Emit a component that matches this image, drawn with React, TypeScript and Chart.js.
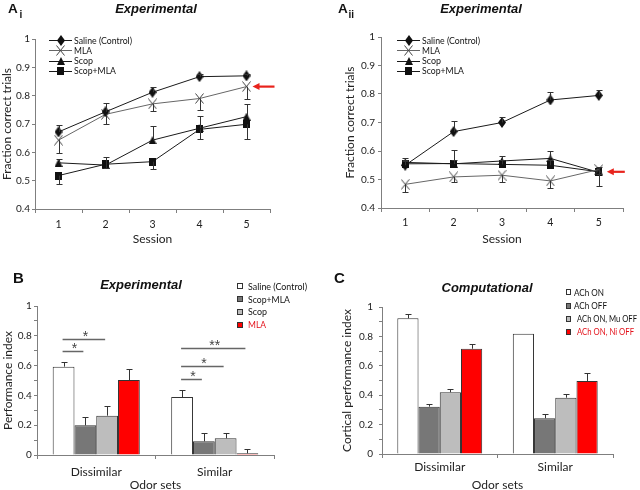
import React, { useEffect, useRef } from 'react';
import { Chart, registerables } from 'chart.js';

Chart.register(...registerables);

// ---------------- data ----------------
const sessionLabels = ['1', '2', '3', '4', '5'];
const lineSeriesLabels = ['Saline (Control)', 'MLA', 'Scop', 'Scop+MLA'];

// Panel Ai (means and error-bar tips)
const aiSaline = [0.672, 0.743, 0.812, 0.867, 0.870];
const aiSalineErr = [0.696, 0.773, 0.832, 0.877, 0.878];
const aiMLA = [0.643, 0.734, 0.771, 0.790, 0.832];
const aiMLAErr = [0.596, 0.699, 0.747, 0.750, 0.790];
const aiScop = [0.563, 0.555, 0.643, 0.685, 0.726];
const aiScopErr = [0.578, 0.585, 0.694, 0.728, 0.770];
const aiScopMLA = [0.518, 0.558, 0.567, 0.681, 0.699];
const aiScopMLAErr = [0.488, 0.545, 0.540, 0.647, 0.647];

// Panel Aii
const aiiSaline = [0.550, 0.668, 0.700, 0.779, 0.795];
const aiiSalineErr = [0.565, 0.706, 0.718, 0.808, 0.815];
const aiiMLA = [0.483, 0.509, 0.515, 0.495, 0.535];
const aiiMLAErr = [0.455, 0.490, 0.490, 0.470, 0.520];
const aiiScop = [0.560, 0.555, 0.565, 0.574, 0.525];
const aiiScopErr = [0.575, 0.570, 0.582, 0.600, 0.545];
const aiiScopMLA = [0.555, 0.556, 0.553, 0.550, 0.527];
const aiiScopMLAErr = [0.570, 0.603, 0.568, 0.568, 0.476];

// Panel B
const odorSets = ['Dissimilar', 'Similar'];
const bSeriesLabels = ['Saline (Control)', 'Scop+MLA', 'Scop', 'MLA'];
const bSaline = [0.593, 0.389];
const bSalineErr = [0.624, 0.438];
const bScopMLA = [0.199, 0.092];
const bScopMLAErr = [0.253, 0.146];
const bScop = [0.264, 0.112];
const bScopErr = [0.331, 0.148];
const bMLA = [0.503, 0.011];
const bMLAErr = [0.579, 0.038];

// significance brackets in B
const bSigGroup = [0, 0, 1, 1, 1];
const bSigFrom = [0, 0, 0, 0, 0];
const bSigTo = [2, 1, 3, 2, 1];
const bSigLevel = [0.78, 0.70, 0.72, 0.60, 0.51];
const bSigLabel = ['*', '*', '**', '*', '*'];

// Panel C
const cSeriesLabels = ['ACh ON', 'ACh OFF', 'ACh ON, Mu OFF', 'ACh ON, Ni OFF'];
const cAChOn = [0.923, 0.818];
const cAChOnErr = [0.950, null];
const cAChOff = [0.322, 0.243];
const cAChOffErr = [0.342, 0.272];
const cMuOff = [0.420, 0.383];
const cMuOffErr = [0.440, 0.410];
const cNiOff = [0.716, 0.497];
const cNiOffErr = [0.748, 0.550];

// ---------------- styles ----------------
const AXIS = '#7f7f7f';
const TXT = '#222';
const FONT = 'Lato';
const RED = '#ff0000';
const RED_TXT = '#e3121b';
const BAR_COLORS = ['#ffffff', '#777777', '#bdbdbd', RED];

function makeImg(w: number, h: number, draw: (c: CanvasRenderingContext2D) => void) {
  const cv = document.createElement('canvas');
  cv.width = w;
  cv.height = h;
  const c = cv.getContext('2d')!;
  draw(c);
  return cv;
}

function pointImages() {
  const diamond = makeImg(8, 11, (c) => {
    c.fillStyle = '#111';
    c.beginPath();
    c.moveTo(4, 0); c.lineTo(8, 5.5); c.lineTo(4, 11); c.lineTo(0, 5.5);
    c.closePath(); c.fill();
  });
  const cross = makeImg(9, 11, (c) => {
    c.strokeStyle = '#444';
    c.lineWidth = 1;
    c.beginPath();
    c.moveTo(0.5, 0.5); c.lineTo(8.5, 10.5);
    c.moveTo(8.5, 0.5); c.lineTo(0.5, 10.5);
    c.stroke();
  });
  const tri = makeImg(8, 8, (c) => {
    c.fillStyle = '#111';
    c.beginPath();
    c.moveTo(4, 0); c.lineTo(8, 8); c.lineTo(0, 8);
    c.closePath(); c.fill();
  });
  const sq = makeImg(7, 8, (c) => {
    c.fillStyle = '#111';
    c.fillRect(0, 0, 7, 8);
  });
  return [diamond, cross, tri, sq];
}

// ---------------- plugins ----------------
const errorBarPlugin = (tips: (number | null)[][], cap: number) => ({
  id: 'errbars',
  afterDatasetsDraw(chart: any) {
    const { ctx } = chart;
    const ys = chart.scales.y;
    ctx.save();
    ctx.strokeStyle = '#333';
    ctx.lineWidth = 1;
    tips.forEach((arr, di) => {
      const meta = chart.getDatasetMeta(di);
      arr.forEach((t, i) => {
        if (t == null) return;
        const el = meta.data[i];
        const x = Math.round(el.x) + 0.5;
        const y1 = Math.round(ys.getPixelForValue(t)) + 0.5;
        ctx.beginPath();
        ctx.moveTo(x, el.y);
        ctx.lineTo(x, y1);
        ctx.moveTo(x - cap / 2, y1);
        ctx.lineTo(x + cap / 2, y1);
        ctx.stroke();
      });
    });
    ctx.restore();
  },
});

type TextItem = { text: string; x: number; y: number; font: string; color?: string; align?: CanvasTextAlign };
const textPlugin = (items: TextItem[]) => ({
  id: 'texts',
  afterDraw(chart: any) {
    const ctx = chart.ctx;
    ctx.save();
    ctx.textBaseline = 'alphabetic';
    for (const it of items) {
      ctx.font = it.font;
      ctx.fillStyle = it.color || '#111';
      ctx.textAlign = it.align || 'left';
      ctx.fillText(it.text, it.x, it.y);
    }
    ctx.restore();
  },
});

function fitText(ctx: CanvasRenderingContext2D, text: string, x: number, y: number, maxW: number) {
  const w = ctx.measureText(text).width;
  ctx.fillText(text, x, y, Math.min(w, maxW));
}

const lineLegendPlugin = (cfg: { x: number; y: number; dy: number; len: number; font: string; maxW: number[] }) => ({
  id: 'lineLegend',
  afterDraw(chart: any) {
    const ctx = chart.ctx;
    ctx.save();
    chart.data.datasets.forEach((ds: any, i: number) => {
      const yy = cfg.y + i * cfg.dy;
      ctx.strokeStyle = ds.borderColor;
      ctx.lineWidth = 1;
      ctx.beginPath();
      ctx.moveTo(cfg.x, Math.round(yy) + 0.5);
      ctx.lineTo(cfg.x + cfg.len, Math.round(yy) + 0.5);
      ctx.stroke();
      const img = ds.pointStyle;
      ctx.drawImage(img, Math.round(cfg.x + cfg.len / 2 - img.width / 2), Math.round(yy - img.height / 2));
      ctx.fillStyle = '#111';
      ctx.font = cfg.font;
      ctx.textBaseline = 'middle';
      ctx.textAlign = 'left';
      fitText(ctx, ds.label, cfg.x + cfg.len + 2, yy + 0.5, cfg.maxW[i]);
    });
    ctx.restore();
  },
});

const barLegendPlugin = (cfg: {
  x: number; y: number[]; w: number; h: number; textX: number[]; font: string; textColors: string[]; maxW: number[];
}) => ({
  id: 'barLegend',
  afterDraw(chart: any) {
    const ctx = chart.ctx;
    ctx.save();
    chart.data.datasets.forEach((ds: any, i: number) => {
      const yy = cfg.y[i];
      ctx.fillStyle = ds.backgroundColor;
      ctx.fillRect(cfg.x, Math.round(yy - cfg.h / 2), cfg.w, cfg.h);
      ctx.strokeStyle = '#333';
      ctx.lineWidth = 1;
      ctx.strokeRect(cfg.x + 0.5, Math.round(yy - cfg.h / 2) + 0.5, cfg.w - 1, cfg.h - 1);
      ctx.fillStyle = cfg.textColors[i];
      ctx.font = cfg.font;
      ctx.textBaseline = 'middle';
      ctx.textAlign = 'left';
      fitText(ctx, ds.label, cfg.textX[i], yy + 0.5, cfg.maxW[i]);
    });
    ctx.restore();
  },
});

const arrowPlugin = (dsIndex: number, ptIndex: number, gap: number, len: number) => ({
  id: 'arrow',
  afterDraw(chart: any) {
    const ctx = chart.ctx;
    const el = chart.getDatasetMeta(dsIndex).data[ptIndex];
    const x0 = el.x + gap;
    const y = el.y;
    ctx.save();
    ctx.strokeStyle = '#e8231c';
    ctx.fillStyle = '#e8231c';
    ctx.lineWidth = 2.2;
    ctx.beginPath();
    ctx.moveTo(x0 + 5, y);
    ctx.lineTo(x0 + len, y);
    ctx.stroke();
    ctx.beginPath();
    ctx.moveTo(x0, y);
    ctx.lineTo(x0 + 7, y - 3.5);
    ctx.lineTo(x0 + 7, y + 3.5);
    ctx.closePath();
    ctx.fill();
    ctx.restore();
  },
});

const sigPlugin = {
  id: 'sig',
  afterDatasetsDraw(chart: any) {
    const ctx = chart.ctx;
    const ys = chart.scales.y;
    ctx.save();
    for (let k = 0; k < bSigLevel.length; k++) {
      const a = chart.getDatasetMeta(bSigFrom[k]).data[bSigGroup[k]];
      const b = chart.getDatasetMeta(bSigTo[k]).data[bSigGroup[k]];
      const y = Math.round(ys.getPixelForValue(bSigLevel[k])) + 0.5;
      ctx.strokeStyle = '#666';
      ctx.lineWidth = 1.5;
      ctx.beginPath();
      ctx.moveTo(a.x - 1, y);
      ctx.lineTo(b.x - 2, y);
      ctx.stroke();
      ctx.fillStyle = '#444';
      ctx.font = '14px "Liberation Sans"';
      ctx.textAlign = 'center';
      ctx.textBaseline = 'alphabetic';
      ctx.fillText(bSigLabel[k], (a.x + b.x) / 2, y + 1);
    }
    ctx.restore();
  },
};

// ---------------- option builders ----------------
type Geo = {
  padL: number; padT: number; padR: number; padB: number;
  yW: number; xH: number; xTickPad: number; yTickPad: number; xTitlePadB: number;
  xFont: number; yTitle: string; xTitle: string;
};

function baseOptions(g: Geo, yMin: number, yCallback: (v: number) => string) {
  return {
    responsive: false,
    animation: false,
    devicePixelRatio: 1,
    events: [],
    layout: { padding: { left: g.padL, top: g.padT, right: g.padR, bottom: g.padB } },
    plugins: { legend: { display: false }, tooltip: { enabled: false }, title: { display: false } },
    scales: {
      x: {
        type: 'category',
        offset: true,
        grid: { offset: true, drawOnChartArea: false, drawTicks: true, tickLength: 4, color: AXIS },
        border: { display: true, color: AXIS },
        ticks: { font: { family: FONT, size: g.xFont }, color: TXT, padding: g.xTickPad, maxRotation: 0, autoSkip: false },
        title: { display: true, text: g.xTitle, font: { family: FONT, size: 12 }, color: TXT, padding: { top: 0, bottom: g.xTitlePadB } },
        afterFit: (s: any) => { s.height = g.xH; },
      },
      y: {
        min: yMin,
        max: 1,
        grid: { drawOnChartArea: false, drawTicks: true, tickLength: 3, color: AXIS },
        border: { display: true, color: AXIS },
        ticks: {
          stepSize: 0.1, autoSkip: false, font: { family: FONT, size: 10 }, color: TXT, padding: g.yTickPad,
          callback: (v: any) => yCallback(Number(v)),
        },
        title: { display: true, text: g.yTitle, font: { family: FONT, size: 12 }, color: TXT, padding: { top: 0, bottom: 0 } },
        afterFit: (s: any) => { s.width = g.yW; },
      },
    },
  };
}

const lineTick = (v: number) => String(Math.round(v * 10) / 10);
const barTick = (v: number) => {
  const k = Math.round(v * 10);
  return k % 2 === 0 ? String(k / 10) : '';
};

function lineDatasets(series: number[][], imgs: HTMLCanvasElement[]) {
  const colors = ['#1a1a1a', '#666666', '#1a1a1a', '#1a1a1a'];
  return series.map((d, i) => ({
    label: lineSeriesLabels[i],
    data: d,
    borderColor: colors[i],
    backgroundColor: colors[i],
    borderWidth: 1,
    pointStyle: imgs[i],
    pointRadius: 5,
    tension: 0,
    fill: false,
  }));
}

function barDatasets(labels: string[], series: number[][]) {
  return series.map((d, i) => ({
    label: labels[i],
    data: d,
    backgroundColor: BAR_COLORS[i],
    borderColor: '#333',
    borderWidth: 1,
    barPercentage: 1,
    categoryPercentage: 0.735,
  }));
}

const TITLE_FONT = 'italic bold 13px "Liberation Sans"';
const LEGEND_FONT = `9.5px ${FONT}`;

export default function App() {
  const r1 = useRef<HTMLCanvasElement>(null);
  const r2 = useRef<HTMLCanvasElement>(null);
  const r3 = useRef<HTMLCanvasElement>(null);
  const r4 = useRef<HTMLCanvasElement>(null);

  useEffect(() => {
    const imgs = pointImages();
    const charts: Chart[] = [];
    const lineMaxW = [58, 18, 19, 42];

    // Panel Ai
    charts.push(new Chart(r1.current!, {
      type: 'line',
      data: { labels: sessionLabels, datasets: lineDatasets([aiSaline, aiMLA, aiScop, aiScopMLA], imgs) as any },
      options: baseOptions({
        padL: 0, padT: 39, padR: 370, padB: 241, yW: 35, xH: 40, xTickPad: 5, yTickPad: 2, xTitlePadB: 3,
        xFont: 10.5, yTitle: 'Fraction correct trials', xTitle: 'Session',
      }, 0.4, lineTick) as any,
      plugins: [
        errorBarPlugin([aiSaline.map((_, i) => aiSalineErr[i]), aiMLAErr, aiScopErr, aiScopMLAErr], 6),
        lineLegendPlugin({ x: 49, y: 40, dy: 10.3, len: 23, font: LEGEND_FONT, maxW: lineMaxW }),
        arrowPlugin(1, 4, 6, 22),
        textPlugin([
          { text: 'A', x: 8, y: 12.5, font: 'bold 13.5px "Liberation Sans"' },
          { text: 'i', x: 19.5, y: 18, font: 'bold 10px "Liberation Sans"' },
          { text: 'Experimental', x: 156, y: 12.6, font: TITLE_FONT, align: 'center' },
        ]),
      ],
    }));

    // Panel Aii
    charts.push(new Chart(r2.current!, {
      type: 'line',
      data: { labels: sessionLabels, datasets: lineDatasets([aiiSaline, aiiMLA, aiiScop, aiiScopMLA], imgs) as any },
      options: baseOptions({
        padL: 343, padT: 37, padR: 17, padB: 242, yW: 38, xH: 40, xTickPad: 4, yTickPad: 3, xTitlePadB: 2,
        xFont: 10.5, yTitle: 'Fraction correct trials', xTitle: 'Session',
      }, 0.4, lineTick) as any,
      plugins: [
        errorBarPlugin([aiiSaline.map((_, i) => aiiSalineErr[i]), aiiMLAErr, aiiScopErr, aiiScopMLAErr], 6),
        lineLegendPlugin({ x: 397, y: 40, dy: 10.3, len: 23, font: LEGEND_FONT, maxW: lineMaxW }),
        arrowPlugin(3, 4, 8, 18),
        textPlugin([
          { text: 'A', x: 338, y: 13, font: 'bold 13.5px "Liberation Sans"' },
          { text: 'ii', x: 348.5, y: 18.3, font: 'bold 10px "Liberation Sans"' },
          { text: 'Experimental', x: 481, y: 13.3, font: TITLE_FONT, align: 'center' },
        ]),
      ],
    }));

    // Panel B
    charts.push(new Chart(r3.current!, {
      type: 'bar',
      data: { labels: odorSets, datasets: barDatasets(bSeriesLabels, [bSaline, bScopMLA, bScop, bMLA]) as any },
      options: baseOptions({
        padL: 1, padT: 306, padR: 366, padB: 0, yW: 36, xH: 35, xTickPad: 5.5, yTickPad: 2.3, xTitlePadB: -2.2,
        xFont: 12, yTitle: 'Performance index', xTitle: 'Odor sets',
      }, 0, barTick) as any,
      plugins: [
        errorBarPlugin([bSalineErr, bScopMLAErr, bScopErr, bMLAErr], 6),
        sigPlugin,
        barLegendPlugin({
          x: 237, y: [286, 299, 311.5, 324.5], w: 6, h: 6, textX: [248, 248, 248, 248],
          font: LEGEND_FONT, textColors: ['#111', '#111', '#111', RED_TXT], maxW: [59, 42, 19, 18],
        }),
        textPlugin([
          { text: 'B', x: 13, y: 283, font: 'bold 15px "Liberation Sans"' },
          { text: 'Experimental', x: 141, y: 289, font: TITLE_FONT, align: 'center' },
        ]),
      ],
    }));

    // Panel C
    charts.push(new Chart(r4.current!, {
      type: 'bar',
      data: { labels: odorSets, datasets: barDatasets(cSeriesLabels, [cAChOn, cAChOff, cMuOff, cNiOff]) as any },
      options: baseOptions({
        padL: 340, padT: 307, padR: 27, padB: 0, yW: 42, xH: 36, xTickPad: 2.3, yTickPad: 6, xTitlePadB: -2.2,
        xFont: 12, yTitle: 'Cortical performance index', xTitle: 'Odor sets',
      }, 0, barTick) as any,
      plugins: [
        errorBarPlugin([cAChOnErr, cAChOffErr, cMuOffErr, cNiOffErr], 6),
        barLegendPlugin({
          x: 566, y: [292.3, 305.7, 318.7, 331.7], w: 5, h: 6, textX: [574, 574, 577, 577],
          font: LEGEND_FONT, textColors: ['#111', '#111', '#111', RED_TXT], maxW: [30, 33, 60, 57],
        }),
        textPlugin([
          { text: 'C', x: 334, y: 283, font: 'bold 15px "Liberation Sans"' },
          { text: 'Computational', x: 487, y: 291.5, font: TITLE_FONT, align: 'center' },
        ]),
      ],
    }));

    return () => charts.forEach((c) => c.destroy());
  }, []);

  const cs: React.CSSProperties = { position: 'absolute', left: 0, top: 0, width: 640, height: 490 };
  return (
    <div style={{ position: 'fixed', left: 0, top: 0, width: 640, height: 490, background: '#fff', overflow: 'hidden' }}>
      <canvas ref={r1} width={640} height={490} style={cs} />
      <canvas ref={r2} width={640} height={490} style={cs} />
      <canvas ref={r3} width={640} height={490} style={cs} />
      <canvas ref={r4} width={640} height={490} style={cs} />
    </div>
  );
}
